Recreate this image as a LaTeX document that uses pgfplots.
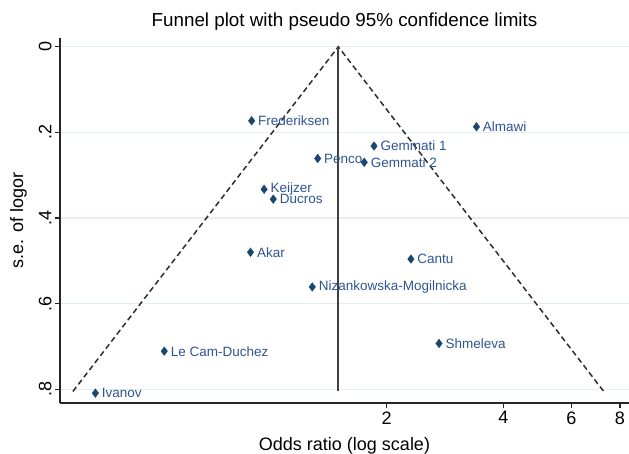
\documentclass[border=0pt]{standalone}
\usepackage{pgfplots}
\pgfplotsset{compat=1.18}
\usepackage{fontspec}
\setmainfont{Liberation Sans}
\definecolor{mk}{RGB}{26,71,111}
\definecolor{lb}{RGB}{45,85,145}
\definecolor{gridc}{RGB}{226,238,240}
\definecolor{fl}{RGB}{45,45,45}
\begin{document}
\begin{tikzpicture}
\begin{axis}[
  at={(60pt,50pt)}, anchor=south west,
  scale only axis, width=569pt, height=365.3pt,
  xmode=log, xmin=0.2868, xmax=8.445,
  ymin=-0.021, ymax=0.832, y dir=reverse,
  axis x line*=bottom, axis y line*=left,
  axis line style={line width=1.4pt, draw=black!85},
  tick align=outside, major tick length=5pt,
  tick style={line width=1.2pt, black!85},
  xtick={2,4,6,8}, xticklabels={2,4,6,8},
  minor xtick={}, 
  ytick={0,0.2,0.4,0.6,0.8}, yticklabels={0,.2,.4,.6,.8},
  ymajorgrids, major grid style={gridc, line width=1.2pt},
  ticklabel style={font=\fontsize{18}{20}\selectfont},
  /pgf/number format/assume math mode=true,
  yticklabel style={rotate=90, anchor=south},
  title={Funnel plot with pseudo 95\% confidence limits},
  title style={at={(axis description cs:0.5,1)}, anchor=base, yshift=5pt, font=\fontsize{18.8}{21}\selectfont},
  xlabel={Odds ratio (log scale)},
  xlabel style={at={(axis description cs:0.5,0)}, anchor=base, yshift=-47pt, font=\fontsize{18}{20}\selectfont},
  ylabel={s.e. of logor},
  ylabel style={at={(axis description cs:-0.073,0.5)}, anchor=center, rotate=0, font=\fontsize{18}{20}\selectfont},
  clip=false,
]
\addplot[fl, line width=1.5pt, dash pattern=on 5.5pt off 3.5pt] coordinates {(0.3097,0.805) (1.5,0) (7.267,0.805)};
\addplot[black!75, line width=1.8pt] coordinates {(1.5,0) (1.5,0.805)};
\addplot[only marks, mark=diamond*, mark size=4.3pt, mark options={fill=mk, draw=mk},
  nodes near coords, point meta=explicit symbolic,
  nodes near coords style={anchor=west, xshift=3pt, text=lb, font=\fontsize{13.5}{15}\selectfont}]
  coordinates {
  (0.896,0.173) [Frederiksen]
  (3.41,0.187) [Almawi]
  (1.855,0.232) [Gemmati 1]
  (1.327,0.261) [Penco]
  (1.75,0.270) [Gemmati 2]
  (0.965,0.333) [Keijzer]
  (1.019,0.356) [Ducros]
  (0.890,0.480) [Akar]
  (1.285,0.561) [Nizankowska-Mogilnicka]
  (2.31,0.496) [Cantu]
  (2.73,0.693) [Shmeleva]
  (0.533,0.711) [Le Cam-Duchez]
  (0.354,0.809) [Ivanov]
  };
\end{axis}
\pgfresetboundingbox
\path (0pt,0pt) rectangle (629pt,453pt);
\end{tikzpicture}
\end{document}
